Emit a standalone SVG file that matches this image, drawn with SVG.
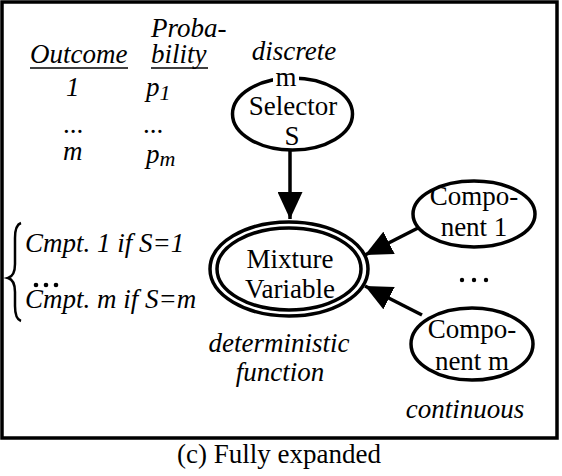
<svg xmlns="http://www.w3.org/2000/svg" width="562" height="476" viewBox="0 0 562 476">
<style>
text{font-family:"Liberation Serif","Times New Roman",serif;font-size:27px;fill:#000}
.i{font-style:italic}
.n{fill:#fff;stroke:#000;stroke-width:3.5}
.e{stroke:#000;stroke-width:3.5;fill:none}
.c{text-anchor:middle}
</style>
<defs>
<marker id="ah" markerWidth="27" markerHeight="25" refX="27" refY="12.5" orient="auto" markerUnits="userSpaceOnUse">
<path d="M0,0 L27,12.5 L0,25 Z" fill="#000"/>
</marker>
</defs>
<rect x="2" y="2" width="555" height="436" fill="#fff" stroke="#000" stroke-width="3.5"/>
<g id="table">
<text class="i" x="151" y="37">Proba-</text>
<text class="i" x="30" y="63">Outcome</text>
<line x1="30" y1="68" x2="128" y2="68" stroke="#000" stroke-width="1.5"/>
<text class="i" x="151" y="63">bility</text>
<line x1="151" y1="68" x2="208" y2="68" stroke="#000" stroke-width="1.5"/>
<text class="i" x="66" y="96">1</text>
<text class="i" x="146" y="96">p<tspan font-size="22" dy="4">1</tspan></text>
<text x="63" y="133">...</text>
<text x="143" y="133">...</text>
<text class="i" x="63" y="160">m</text>
<text class="i" x="146" y="163">p<tspan font-size="22" dy="3">m</tspan></text>
</g>
<g id="cases">
<path d="M21,223 Q15,225 15,238 L15,264 Q15,276 8,278 Q15,280 15,292 L15,306 Q15,319 21,321" fill="none" stroke="#000" stroke-width="2.5"/>
<text class="i" x="25" y="252">Cmpt. 1 if S=1</text>
<circle cx="36" cy="285" r="2.3"/><circle cx="46" cy="285" r="2.3"/><circle cx="56" cy="285" r="2.3"/>
<text class="i" x="25" y="308">Cmpt. m if S=m</text>
</g>
<g id="connectors">
<line x1="290" y1="150" x2="290" y2="219" class="e" marker-end="url(#ah)"/>
<line x1="418" y1="228" x2="365" y2="255" class="e" marker-end="url(#ah)"/>
<line x1="422" y1="315" x2="365" y2="286" class="e" marker-end="url(#ah)"/>
</g>
<g id="selector">
<text class="i c" x="294" y="60">discrete</text>
<ellipse cx="292.5" cy="114" rx="60" ry="36" class="n"/>
<rect x="273" y="73" width="26" height="12" fill="#fff"/>
<text class="c" x="286" y="86">m</text>
<text class="c" x="293" y="115">Selector</text>
<text class="c" x="292" y="145">S</text>
</g>
<g id="mixture">
<ellipse cx="289" cy="269" rx="79" ry="47" class="n"/>
<ellipse cx="289" cy="269" rx="72" ry="41" class="e"/>
<text class="c" x="290" y="268">Mixture</text>
<text class="c" x="290" y="298">Variable</text>
<text class="i c" x="279" y="352">deterministic</text>
<text class="i c" x="280" y="381">function</text>
</g>
<g id="component1">
<ellipse cx="474" cy="214" rx="61" ry="33" class="n"/>
<text class="c" x="474" y="205">Compo-</text>
<text class="c" x="474" y="236">nent 1</text>
</g>
<g id="dots">
<circle cx="462" cy="280" r="2.2"/><circle cx="474" cy="280" r="2.2"/><circle cx="486" cy="280" r="2.2"/>
</g>
<g id="componentm">
<ellipse cx="472" cy="344" rx="61" ry="36" class="n"/>
<text class="c" x="472" y="338">Compo-</text>
<text class="c" x="472" y="370">nent m</text>
<text class="i c" x="465" y="418">continuous</text>
</g>
<text class="c" x="279" y="463">(c) Fully expanded</text>
</svg>
